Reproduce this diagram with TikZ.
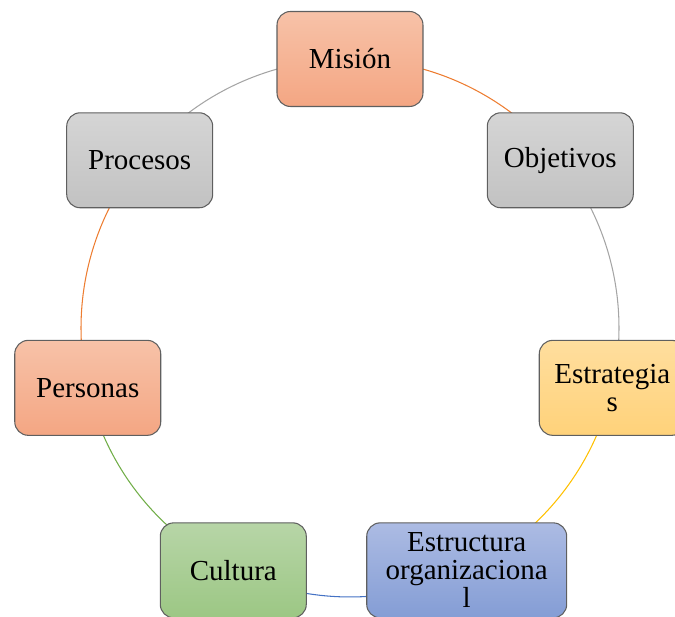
\documentclass[tikz,border=0pt]{standalone}
\usepackage{fontspec}
\setmainfont{Liberation Serif}
\definecolor{orTop}{RGB}{247,194,168}
\definecolor{orBot}{RGB}{244,166,131}
\definecolor{grTop}{RGB}{213,213,213}
\definecolor{grBot}{RGB}{194,194,194}
\definecolor{goTop}{RGB}{255,222,158}
\definecolor{goBot}{RGB}{255,210,122}
\definecolor{blTop}{RGB}{172,187,227}
\definecolor{blBot}{RGB}{132,157,213}
\definecolor{gnTop}{RGB}{183,213,167}
\definecolor{gnBot}{RGB}{156,199,132}
\definecolor{orLine}{RGB}{237,125,49}
\definecolor{grLine}{RGB}{165,165,165}
\definecolor{goLine}{RGB}{255,192,0}
\definecolor{blLine}{RGB}{68,114,196}
\definecolor{gnLine}{RGB}{112,173,71}
\definecolor{edge}{RGB}{95,95,95}
\tikzset{
  cyclebox/.style={draw=edge, line width=0.6pt, rounded corners=0.27cm,
    minimum width=2.92cm, minimum height=1.9cm, inner sep=0pt, align=center,
    font=\fontsize{16.5pt}{16pt}\selectfont},
  orangebox/.style={cyclebox, top color=orTop, bottom color=orBot},
  greybox/.style={cyclebox, top color=grTop, bottom color=grBot},
  goldbox/.style={cyclebox, top color=goTop, bottom color=goBot},
  bluebox/.style={cyclebox, top color=blTop, bottom color=blBot, minimum width=4cm},
  greenbox/.style={cyclebox, top color=gnTop, bottom color=gnBot},
  ring/.style={line width=0.6pt}
}
\begin{document}
\begin{tikzpicture}[x=0.02cm, y=0.02cm]
\useasboundingbox (0,0) rectangle (675,617);
\begin{scope}[shift={(350,289)}]
  % seven stations spaced evenly on the ring
  \coordinate (p0) at (90:269);
  \coordinate (p1) at (38.571:269);
  \coordinate (p2) at (-12.857:269);
  \coordinate (p3) at (-64.286:269);
  \coordinate (p4) at (-115.714:269);
  \coordinate (p5) at (-167.143:269);
  \coordinate (p6) at (141.429:269);
  % ring segments, coloured after the box they leave
  \draw[ring, orLine] (p0) arc[start angle=90, end angle=38.571, radius=5.38cm];
  \draw[ring, grLine] (p1) arc[start angle=38.571, end angle=-12.857, radius=5.38cm];
  \draw[ring, goLine] (p2) arc[start angle=-12.857, end angle=-64.286, radius=5.38cm];
  \draw[ring, blLine] (p3) arc[start angle=-64.286, end angle=-115.714, radius=5.38cm];
  \draw[ring, gnLine] (p4) arc[start angle=-115.714, end angle=-167.143, radius=5.38cm];
  \draw[ring, orLine] (p5) arc[start angle=-167.143, end angle=-218.571, radius=5.38cm];
  \draw[ring, grLine] (p6) arc[start angle=141.429, end angle=90, radius=5.38cm];
  % boxes
  \node[orangebox] (mision) at (p0) {Misión};
  \node[greybox] (objetivos) at (p1) {Objetivos};
  \node[goldbox] (estrategias) at (p2) {Estrategia\\s};
  \node[bluebox] (estructura) at (p3) {Estructura\\organizaciona\\l};
  \node[greenbox] (cultura) at (p4) {Cultura};
  \node[orangebox] (personas) at (p5) {Personas};
  \node[greybox] (procesos) at (p6) {Procesos};
\end{scope}
\end{tikzpicture}
\end{document}
